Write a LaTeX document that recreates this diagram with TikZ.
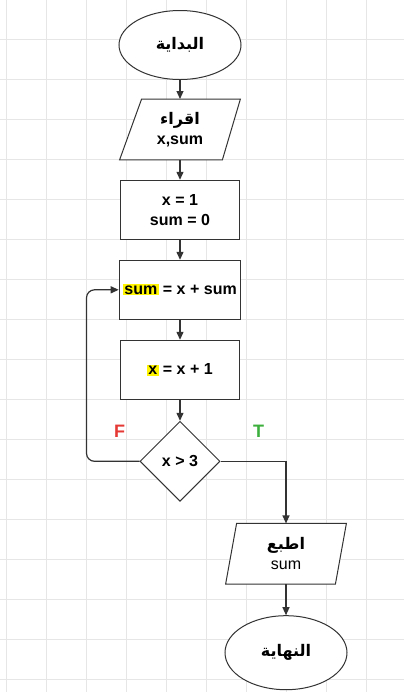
\documentclass[tikz,border=0pt]{standalone}
\usepackage{fontspec}
\setmainfont{Liberation Sans}
\newfontfamily\arabicfont[Script=Arabic]{DejaVu Sans}
\TeXXeTstate=1
\usetikzlibrary{arrows.meta,positioning,shapes.geometric,calc}
\usepackage{xcolor}
\definecolor{flowline}{HTML}{333333}
\definecolor{gridgray}{HTML}{E6E6E6}
\definecolor{falsered}{HTML}{E53935}
\definecolor{truegreen}{HTML}{3DAF3D}
\definecolor{hlyellow}{HTML}{FFF500}
\newcommand{\hlmark}[1]{{\setlength{\fboxsep}{0.6pt}\colorbox{hlyellow}{#1}}}
\newcommand{\artext}[1]{{\arabicfont\bfseries\beginR #1\endR}}

\begin{document}
\begin{tikzpicture}[
  node distance=10pt,
  font=\fontsize{8}{10}\selectfont\bfseries,
  box/.style={draw=flowline, line width=0.5pt, align=center, minimum width=59.5pt, minimum height=29.5pt, inner sep=2pt, fill=white},
  term/.style={box, ellipse, minimum width=61pt, minimum height=34.5pt},
  iotext/.style={align=center, minimum width=60pt, minimum height=30pt, inner sep=2pt},
  ioline/.style={draw=flowline, line width=0.5pt, fill=white},
  decision/.style={box, diamond, minimum width=40pt, minimum height=40pt, inner sep=0pt},
  flag/.style={font=\fontsize{9}{11}\selectfont\bfseries},
  arrow/.style={-{Triangle[length=4pt,width=3.5pt]}, draw=flowline, line width=0.6pt}
]
\useasboundingbox (0,0) rectangle (202pt,-346pt);
\fill[white] (0,0) rectangle (202pt,-346pt);
% grid
\foreach \gx in {3.35,23.35,...,202}
  \draw[gridgray, line width=0.4pt] (\gx pt,0) -- (\gx pt,-346pt);
\foreach \gy in {19.5,39.5,...,346}
  \draw[gridgray, line width=0.4pt] (0,-\gy pt) -- (202pt,-\gy pt);

\node[term] (start) at (90pt,-22.5pt) {\artext{البداية}};
\node[iotext, below=9.5pt of start] (read) {};
\node[box, below=of read] (init) {x = 1\\sum = 0};
\node[box, below=of init] (acc) {\hlmark{sum} = x + sum};
\node[box, below=of acc] (inc) {\hlmark{x} = x + 1};
\node[decision, below=10.5pt of inc] (cond) {x > 3};
\node[iotext] (print) at ($(cond)+(53pt,-46.25pt)$) {};
\node[term, below=15.5pt of print, minimum height=37pt] (stop) {\artext{النهاية}};

% parallelograms for input and output
\draw[ioline] ($(read.north west)+(11pt,0)$) -- (read.north east)
  -- ($(read.south east)+(-9pt,0)$) -- (read.south west) -- cycle;
\node[align=center] (readtext) at (read) {\artext{اقراء}\\x,sum};
\draw[ioline] ($(print.north west)+(5.5pt,0)$) -- (print.north east)
  -- ($(print.south east)+(-5.5pt,0)$) -- (print.south west) -- cycle;
\node[align=center] (printtext) at (print) {\artext{اطبع}\\\mdseries sum};

\node[flag, text=falsered] (no) at ($(cond.west)+(-10pt,15pt)$) {F};
\node[flag, text=truegreen] (yes) at ($(cond.east)+(19pt,15pt)$) {T};

\draw[arrow] (start) -- (read);
\draw[arrow] (read) -- (init);
\draw[arrow] (init) -- (acc);
\draw[arrow] (acc) -- (inc);
\draw[arrow] (inc) -- (cond);
\draw[arrow, rounded corners=4pt] (cond.west) -- ++(-26.5pt,0) |- (acc.west);
\draw[arrow] (cond.east) -| (print.north);
\draw[arrow] (print) -- (stop);
\end{tikzpicture}
\end{document}
